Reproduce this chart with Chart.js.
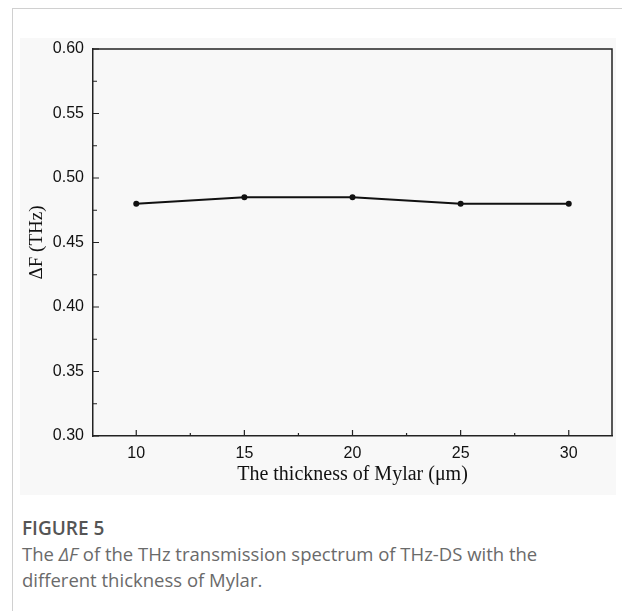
<!DOCTYPE html>
<html>
<head>
<meta charset="utf-8">
<script src="https://cdn.jsdelivr.net/npm/chart.js@4/dist/chart.umd.min.js"></script>
<style>
  html, body { margin: 0; padding: 0; background: #fff; }
  body { width: 622px; height: 611px; position: relative; overflow: hidden; }
  .frame {
    position: absolute; left: 12px; top: 8px; right: 0; bottom: 0;
    border-top: 1px solid #d0d0d0; border-left: 1px solid #d0d0d0;
  }
  .figure {
    position: absolute; left: 20px; top: 38px; width: 596px; height: 457px;
    background: #f8f8f8;
  }
  .caption {
    position: absolute; left: 22px; top: 515px; width: 590px;
    font-family: "Open Sans", sans-serif; color: #6a6a6a; font-size: 18.5px; line-height: 26px;
  }
  .caption .label { color: #555; font-weight: 600; display: block; font-size: 19px; }
</style>
</head>
<body>
<div class="frame"></div>
<div class="figure"><canvas id="chart"></canvas></div>
<div class="caption">
  <span class="label">FIGURE 5</span>
  The <i>ΔF</i> of the THz transmission spectrum of THz-DS with the different thickness of Mylar.
</div>
<script>
const thickness = [10, 15, 20, 25, 30];
const deltaF = [0.48, 0.485, 0.485, 0.48, 0.48];
const xTicks = [10, 15, 20, 25, 30];
const yTicks = [0.30, 0.35, 0.40, 0.45, 0.50, 0.55, 0.60];

// inward major + minor ticks, drawn from the scales themselves
const inwardTicks = {
    id: 'inwardTicks',
    afterDatasetsDraw(chart) {
        const ctx = chart.ctx;
        const x = chart.scales.x, y = chart.scales.y;
        ctx.save();
        ctx.strokeStyle = '#222';
        ctx.lineWidth = 1.2;
        ctx.beginPath();
        xTicks.forEach(v => {
            const px = x.getPixelForValue(v);
            ctx.moveTo(px, y.bottom); ctx.lineTo(px, y.bottom - 6);
            const mx = x.getPixelForValue(v + 2.5);
            if (v + 2.5 < x.max) { ctx.moveTo(mx, y.bottom); ctx.lineTo(mx, y.bottom - 3); }
        });
        yTicks.forEach(v => {
            const py = y.getPixelForValue(v);
            ctx.moveTo(x.left, py); ctx.lineTo(x.left + 6, py);
            const my = y.getPixelForValue(v + 0.025);
            if (v + 0.025 < y.max) { ctx.moveTo(x.left, my); ctx.lineTo(x.left + 4, my); }
        });
        ctx.stroke();
        ctx.restore();
    }
};

// right and top frame lines of the plot box
const boxFrame = {
    id: 'boxFrame',
    afterDraw(chart) {
        const a = chart.chartArea, ctx = chart.ctx;
        ctx.save();
        ctx.strokeStyle = '#222';
        ctx.lineWidth = 1.5;
        ctx.beginPath();
        ctx.moveTo(a.left, a.top); ctx.lineTo(a.right, a.top); ctx.lineTo(a.right, a.bottom);
        ctx.stroke();
        ctx.restore();
    }
};

Chart.defaults.font.family = 'Liberation Sans, Arial, sans-serif';
Chart.defaults.color = '#111';

const config = {
    type: 'line',
    data: {
        datasets: [{
            data: thickness.map((t, i) => ({ x: t, y: deltaF[i] })),
            borderColor: '#111',
            backgroundColor: '#111',
            borderWidth: 2,
            pointRadius: 3,
            pointBorderWidth: 0,
            tension: 0,
            fill: false
        }]
    },
    options: {
        responsive: true,
        maintainAspectRatio: false,
        animation: false,
        layout: { padding: { top: 11, right: 2, left: 0, bottom: 0 } },
        plugins: { legend: { display: false }, tooltip: { enabled: false } },
        scales: {
            x: {
                type: 'linear',
                min: 8, max: 32,
                afterBuildTicks: s => { s.ticks = xTicks.map(v => ({ value: v })); },
                afterFit: s => { s.height = 59; s.paddingLeft = 0; s.paddingRight = 0; },
                grid: { display: false, drawTicks: false },
                border: { color: '#222', width: 1.5 },
                ticks: { font: { size: 16 }, padding: 8, maxRotation: 0 },
                title: {
                    display: true,
                    text: 'The thickness of Mylar (μm)',
                    font: { family: 'Liberation Serif, Times New Roman, serif', size: 20 },
                    padding: { top: 2, bottom: 8 }
                }
            },
            y: {
                min: 0.30, max: 0.60,
                afterBuildTicks: s => { s.ticks = yTicks.map(v => ({ value: v })); },
                afterFit: s => { s.width = 73; s.paddingTop = 0; s.paddingBottom = 0; },
                grid: { display: false, drawTicks: false },
                border: { color: '#222', width: 1.5 },
                ticks: { font: { size: 16 }, padding: 9, callback: v => v.toFixed(2) },
                title: {
                    display: true,
                    text: 'ΔF (THz)',
                    font: { family: 'Liberation Serif, Times New Roman, serif', size: 19 },
                    padding: { top: 6, bottom: 0 }
                }
            }
        }
    },
    plugins: [inwardTicks, boxFrame]
};

new Chart(document.getElementById('chart'), config);
</script>
</body>
</html>
